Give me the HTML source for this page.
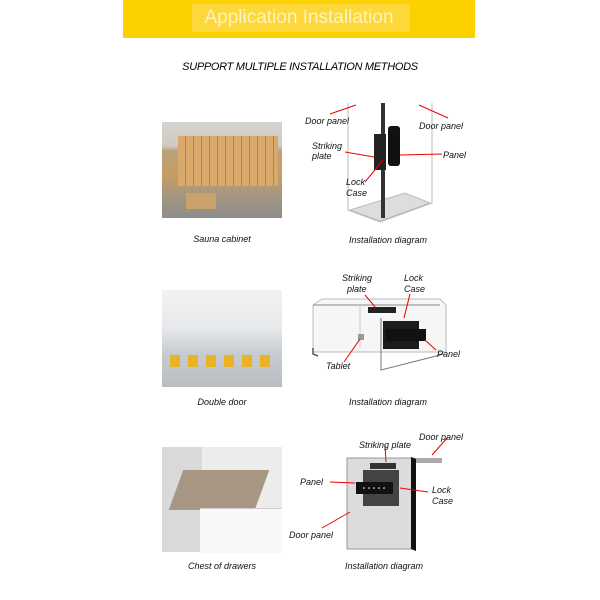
<!DOCTYPE html>
<html><head><style>
body{margin:0;width:600px;height:600px;background:#fff;position:relative;overflow:hidden;font-family:"Liberation Sans",Arial,sans-serif}
.a{position:absolute}
.t{position:absolute;font-size:9px;font-style:italic;color:#111;white-space:nowrap}
.c{position:absolute;font-size:9px;font-style:italic;color:#111;text-align:center;width:160px}
</style></head><body>
<div class="a" style="left:123px;top:0;width:352px;height:38px;background:#fdd000"></div>
<div class="a" style="left:192px;top:4px;width:218px;height:28px;background:#fcd83a"></div>
<div class="a" style="left:123px;top:5px;width:352px;text-align:center;color:#fff3c0;font-size:19px;line-height:26px">Application Installation</div>
<div class="a" style="left:0;top:61px;width:600px;text-align:center;font-size:11px;font-style:italic;letter-spacing:-0.3px">SUPPORT MULTIPLE INSTALLATION METHODS</div>

<!-- photo 1 -->
<div class="a" style="left:162px;top:122px;width:120px;height:96px;background:linear-gradient(#d6d4d0 0,#cfcac2 25%,#b8a27d 30%,#c79d62 55%,#a79680 75%,#8e8d8c 100%)"></div>
<div class="a" style="left:178px;top:136px;width:100px;height:50px;background:repeating-linear-gradient(90deg,#d8a96a 0 7px,#a8844f 7px 8px)"></div>
<div class="a" style="left:186px;top:193px;width:30px;height:16px;background:#c9a36b"></div>
<div class="c" style="left:142px;top:234px">Sauna cabinet</div>
<div class="c" style="left:308px;top:235px">Installation diagram</div>

<!-- photo 2 -->
<div class="a" style="left:162px;top:290px;width:120px;height:97px;background:linear-gradient(#f2f2f2 0,#e6e8ea 40%,#c8ccd0 65%,#b8bdc2 100%)"></div>
<div class="a" style="left:170px;top:355px;width:100px;height:12px;background:repeating-linear-gradient(90deg,#e8b325 0 10px,transparent 10px 18px)"></div>
<div class="c" style="left:142px;top:397px">Double door</div>
<div class="c" style="left:308px;top:397px">Installation diagram</div>

<!-- photo 3 -->
<div class="a" style="left:162px;top:447px;width:120px;height:105px;background:#ececec"></div>
<div class="a" style="left:162px;top:447px;width:40px;height:105px;background:#d9d9d9"></div>
<div class="a" style="left:176px;top:470px;width:86px;height:40px;background:#a89684;transform:skewX(-20deg)"></div>
<div class="a" style="left:200px;top:508px;width:82px;height:44px;background:#f8f8f8;border-top:1px solid #ccc"></div>
<div class="c" style="left:142px;top:561px">Chest of drawers</div>
<div class="c" style="left:304px;top:561px">Installation diagram</div>

<svg class="a" style="left:0;top:0" width="600" height="600">
<g fill="none" stroke="#bbb" stroke-width="1">
<!-- diagram 1 -->
<path d="M348 103 L348 210 L380 222 L432 203 L432 103"/>
<path d="M350 210 L380 221 L430 203 L405 193 Z" fill="#ddd"/>
<!-- diagram 2 -->
<path d="M313 305 L322 299 L440 299 L446 305 L446 352 L313 352 Z" fill="#f6f6f6"/>
<path d="M313 305 L440 305" stroke="#888"/>
<path d="M360 305 L360 348" stroke="#ccc"/>
</g>
<path d="M381 318 L381 370 L444 354" fill="none" stroke="#777"/>
<path d="M313 348 L313 354 L318 356" fill="none" stroke="#555" stroke-width="1.5"/>
<rect x="368" y="307" width="28" height="6" fill="#222"/>
<rect x="358" y="334" width="6" height="6" fill="#999"/>
<rect x="383" y="321" width="36" height="28" fill="#1c1c1c"/>
<rect x="386" y="329" width="40" height="12" fill="#111"/>
<!-- diagram 3 -->
<rect x="412" y="458" width="30" height="5" fill="#aaa"/>
<rect x="347" y="458" width="66" height="91" fill="#dcdcdc" stroke="#999"/>
<path d="M411 457 L416 459 L416 551 L411 549 Z" fill="#111"/>
<rect x="370" y="463" width="26" height="6" fill="#333"/>
<rect x="363" y="470" width="36" height="36" fill="#444"/>
<rect x="356" y="482" width="37" height="12" fill="#111"/>
<g fill="#fff"><circle cx="364" cy="488" r="0.8"/><circle cx="369" cy="488" r="0.8"/><circle cx="374" cy="488" r="0.8"/><circle cx="379" cy="488" r="0.8"/><circle cx="384" cy="488" r="0.8"/></g>
<rect x="381" y="103" width="4" height="115" fill="#333"/>
<rect x="374" y="134" width="12" height="36" fill="#222"/>
<rect x="388" y="126" width="12" height="40" fill="#111" rx="3"/>
<g stroke="#e00" stroke-width="1" fill="#e00">
<path d="M330 114 L356 105"/><path d="M448 118 L419 105"/>
<path d="M345 152 L374 157"/><path d="M442 154 L400 155"/>
<path d="M365 182 L383 160"/>
<path d="M365 295 L376 308"/><path d="M410 294 L404 318"/>
<path d="M436 350 L425 340"/><path d="M344 362 L360 339"/>
<path d="M385 445 L386 462"/><path d="M448 437 L432 455"/>
<path d="M330 482 L355 483"/><path d="M428 492 L400 488"/>
<path d="M322 528 L350 512"/>
</g>
</svg>
<div class="t" style="left:305px;top:116px">Door panel</div>
<div class="t" style="left:419px;top:121px">Door panel</div>
<div class="t" style="left:312px;top:141px">Striking<br>plate</div>
<div class="t" style="left:443px;top:150px">Panel</div>
<div class="t" style="left:346px;top:177px;line-height:11px">Lock<br>Case</div>
<div class="t" style="left:342px;top:273px;line-height:11px">Striking<br>&nbsp;&nbsp;plate</div>
<div class="t" style="left:404px;top:273px;line-height:11px">Lock<br>Case</div>
<div class="t" style="left:437px;top:349px">Panel</div>
<div class="t" style="left:326px;top:361px">Tablet</div>
<div class="t" style="left:359px;top:440px">Striking plate</div>
<div class="t" style="left:419px;top:432px">Door panel</div>
<div class="t" style="left:300px;top:477px">Panel</div>
<div class="t" style="left:432px;top:485px;line-height:11px">Lock<br>Case</div>
<div class="t" style="left:289px;top:530px">Door panel</div>
</body></html>
